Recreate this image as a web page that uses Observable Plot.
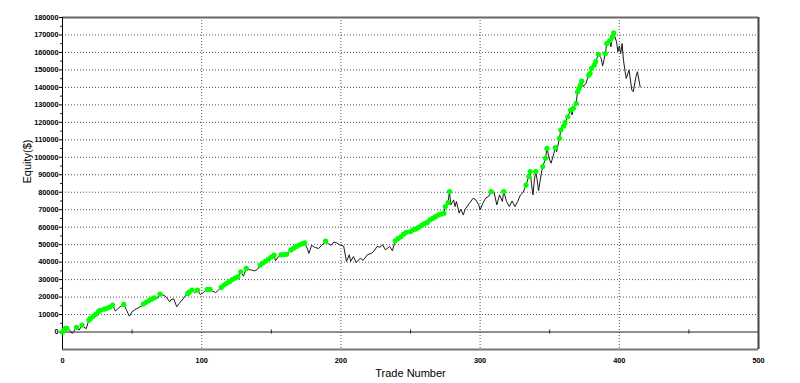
<!DOCTYPE html>
<html>
<head>
<meta charset="utf-8">
<script src="https://cdn.jsdelivr.net/npm/d3@7"></script>
<script src="https://cdn.jsdelivr.net/npm/@observablehq/plot@0.6"></script>
<style>
  html, body { margin: 0; padding: 0; background: #fff; }
  #chart svg { display: block; }
</style>
</head>
<body>
<div id="chart"></div>
<script>
// Trade numbers and equity (in thousands of $)
const trades = [0,1,2,3,4,5,7,8,10,12,14,15,17,19,20,22,23,24,26,27,28,30,32,34,36,38,40,42,44,46,48,50,52,55,57,58,60,62,64,66,68,70,72,73,75,77,78,80,82,84,86,88,90,91,93,95,97,99,101,103,104,106,108,110,112,114,116,118,120,122,124,126,128,130,132,134,136,138,140,142,144,146,148,150,152,153,155,157,159,161,164,166,168,170,172,174,176,177,179,181,184,186,189,191,193,195,197,199,202,204,206,207,209,211,214,216,219,222,224,226,228,230,232,235,237,239,241,243,245,247,250,252,254,256,258,260,262,264,266,268,270,272,274,275,277,278,279,281,282,283,285,286,288,289,292,295,297,299,300,302,304,306,308,310,312,314,316,317,319,321,323,325,327,329,331,333,335,336,337,338,339,340,341,342,344,345,347,348,350,351,353,354,355,357,358,360,361,363,365,366,367,369,370,371,372,373,374,376,378,379,380,382,383,385,387,388,390,391,393,394,395,396,398,399,400,401,402,403,404,405,407,408,409,410,412,413,415];
const equityK = [0,1.1,2.0,2.2,2.0,1.2,-0.8,0.2,2.7,1.1,4.0,3.0,1.9,6.9,7.8,9.0,8.6,10.2,11.8,12.4,11.6,13.1,13.6,14.3,15.4,12.0,13.5,14.8,15.8,12.5,9.1,11.6,12.8,14.1,15.0,16.0,17.0,18.0,18.8,19.6,19.2,21.7,21.2,21.0,19.5,17.3,18.5,18.9,14.5,16.5,18.3,20.5,22.1,22.8,24.0,22.5,24.0,21.5,22.5,23.9,24.4,24.4,23.4,22.5,24.0,25.5,26.9,28.0,28.9,30.0,30.9,31.6,34.5,32.0,36.4,35.8,35.4,35.0,35.8,38.3,39.5,40.6,41.8,43.0,44.0,40.8,43.0,44.2,44.3,44.5,46.9,48.0,49.0,49.8,50.5,51.0,47.5,45.0,49.7,48.5,47.8,49.5,52.0,50.5,49.7,51.5,51.0,50.0,49.1,40.4,44.2,40.4,43.2,39.8,42.3,41.0,44.2,45.1,46.5,49.0,48.5,49.9,47.0,49.0,46.5,52.2,53.5,54.5,56.0,57.1,57.5,58.5,59.0,60.0,61.0,62.0,62.7,64.2,65.0,66.0,67.0,67.5,68.0,71.8,74.1,80.4,72.8,75.6,71.8,74.7,68.0,70.3,67.0,69.9,73.3,76.6,75.6,72.8,69.9,73.7,76.6,77.5,80.4,80.0,72.8,78.5,74.7,80.4,74.7,71.8,75.0,71.8,74.7,78.5,80.0,84.2,89.0,91.8,84.2,78.5,87.0,91.8,87.0,80.9,90.9,94.7,99.4,105.1,98.5,96.6,102.3,105.5,103.2,110.9,115.6,117.9,119.8,123.2,127.0,124.2,128.0,130.9,137.5,139.4,141.3,143.6,140.4,142.3,147.0,148.0,150.9,152.8,154.7,158.9,156.6,152.2,159.4,165.1,166.7,163.2,168.9,171.2,166.1,160.4,163.7,159.4,165.1,155.6,149.9,145.1,149.9,144.2,138.5,137.5,146.1,149.0,140.3];

const yTicks = d3.range(0, 180001, 10000);
const yMinor = d3.range(5000, 180000, 10000);
const yGrid = d3.range(10000, 170001, 10000);
const xTicks = [0, 100, 200, 300, 400, 500];
const xGrid = [100, 200, 300, 400];
const xMinor = [50, 150, 250, 350, 450];
const xTitle = "Trade Number";
const yTitle = "Equity($)";

const data = trades.map((t, i) => ({t, e: equityK[i] * 1000}));
let runMax = -Infinity;
const highs = data.filter(d => { if (d.e >= runMax) { runMax = d.e; return true; } return false; });

const chart = Plot.plot({
  width: 800,
  height: 383,
  marginTop: 17,
  marginBottom: 34,
  marginLeft: 62,
  marginRight: 42,
  style: {background: "#fff", fontFamily: "'Liberation Sans', Arial, sans-serif", fontSize: "7.3px", color: "#000"},
  x: {domain: [0, 500]},
  y: {domain: [-10000, 180000]},
  marks: [
    Plot.gridY(yGrid, {stroke: "#555", strokeOpacity: 1, strokeDasharray: "1,2"}),
    Plot.gridX(xGrid, {stroke: "#555", strokeOpacity: 1, strokeDasharray: "1,2"}),
    Plot.ruleY([0], {stroke: "#222", strokeWidth: 1}),
    Plot.ruleX(xMinor, {y1: 0, y2: 0, insetTop: -2, insetBottom: -2, stroke: "#222"}),
    Plot.ruleY(yMinor, {x1: 0, x2: 0, insetLeft: -2, insetRight: -1, stroke: "#222"}),
    Plot.ruleY([180000], {stroke: "#666", strokeWidth: 2}),
    Plot.ruleY([-10000], {stroke: "#777", strokeWidth: 2}),
    Plot.ruleX([500], {stroke: "#444", strokeWidth: 2}),
    Plot.ruleX([0], {stroke: "#000", strokeWidth: 1}),
    Plot.axisY({ticks: yTicks, tickFormat: d => String(d), tickSize: 3, tickPadding: 1, fontWeight: "bold", label: null}),
    Plot.axisX({ticks: xTicks, tickFormat: d => String(d), tickSize: 0, tickPadding: 8, fontWeight: "bold", label: null}),
    Plot.line(data, {x: "t", y: "e", stroke: "#1a1a1a", strokeWidth: 1}),
    Plot.dot(highs, {x: "t", y: "e", r: 2.6, fill: "#00ff00", stroke: "none"}),
    Plot.text([xTitle], {frameAnchor: "bottom", dy: 27, fontSize: 11, fill: "#000"}),
    Plot.text([yTitle], {frameAnchor: "left", dx: -35, rotate: -90, fontSize: 11, fill: "#000"})
  ]
});
document.getElementById("chart").appendChild(chart);
</script>
</body>
</html>
